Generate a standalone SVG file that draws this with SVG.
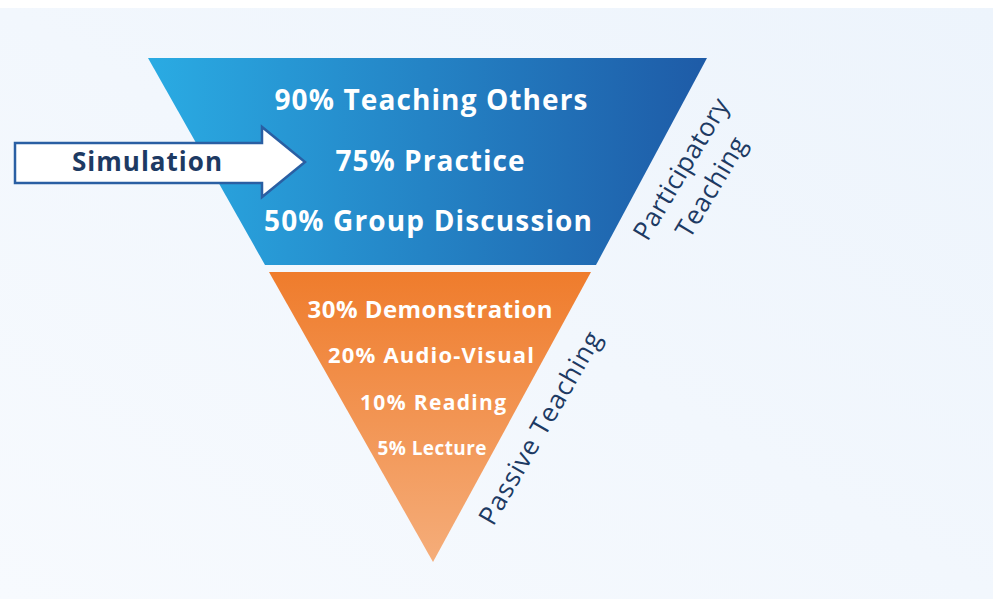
<svg xmlns="http://www.w3.org/2000/svg" width="993" height="599" viewBox="0 0 993 599">
  <defs>
    <linearGradient id="bg" x1="1" y1="0" x2="0" y2="1">
      <stop offset="0" stop-color="#edf4fc"/>
      <stop offset="1" stop-color="#f7fafe"/>
    </linearGradient>
    <linearGradient id="blueFill" x1="0" y1="0" x2="1" y2="0">
      <stop offset="0" stop-color="#2aabe3"/>
      <stop offset="1" stop-color="#1e5ba7"/>
    </linearGradient>
    <linearGradient id="orangeFill" x1="0" y1="0" x2="0" y2="1">
      <stop offset="0" stop-color="#ef7c2c"/>
      <stop offset="1" stop-color="#f5ad7a"/>
    </linearGradient>
    <style>
      .tier { font-family: "Open Sans", "Liberation Sans", sans-serif; font-weight: 700; fill: #ffffff; text-anchor: middle; }
      .side { font-family: "Open Sans", "Liberation Sans", sans-serif; font-weight: 400; fill: #1d3a63; text-anchor: middle; font-size: 26px; }
      .arrow-label { font-family: "Open Sans", "Liberation Sans", sans-serif; font-weight: 700; fill: #1d3a63; text-anchor: middle; font-size: 26px; }
    </style>
  </defs>

  <!-- page background -->
  <rect x="0" y="0" width="993" height="599" fill="#ffffff"/>
  <rect x="0" y="8" width="993" height="591" fill="url(#bg)"/>

  <!-- upper band: participatory methods -->
  <g id="participatory">
    <polygon points="148,58 707,58 596,265 265,265" fill="url(#blueFill)"/>
    <text class="tier" x="431" y="110" font-size="28" textLength="313" lengthAdjust="spacing">90% Teaching Others</text>
    <text class="tier" x="430" y="171" font-size="28" textLength="189" lengthAdjust="spacing">75% Practice</text>
    <text class="tier" x="428" y="231" font-size="28" textLength="328" lengthAdjust="spacing">50% Group Discussion</text>
  </g>

  <!-- lower band: passive methods -->
  <g id="passive">
    <polygon points="269,272 591,272 433,562" fill="url(#orangeFill)"/>
    <text class="tier" x="430" y="318" font-size="24" textLength="245" lengthAdjust="spacing">30% Demonstration</text>
    <text class="tier" x="431" y="363" font-size="22" textLength="206" lengthAdjust="spacing">20% Audio-Visual</text>
    <text class="tier" x="433" y="410" font-size="21" textLength="146" lengthAdjust="spacing">10% Reading</text>
    <text class="tier" x="432" y="455" font-size="19" textLength="109" lengthAdjust="spacing">5% Lecture</text>
  </g>

  <!-- side labels -->
  <g id="label-participatory">
    <text class="side" transform="translate(681,169) rotate(-59)" y="9" textLength="160" lengthAdjust="spacing">Participatory</text>
    <text class="side" transform="translate(711,187) rotate(-59)" y="9" textLength="112" lengthAdjust="spacing">Teaching</text>
  </g>
  <g id="label-passive">
    <text class="side" transform="translate(540,428) rotate(-60)" y="9" textLength="218" lengthAdjust="spacing">Passive Teaching</text>
  </g>

  <!-- simulation pointer -->
  <g id="simulation">
    <polygon points="15,143 262,143 262,127 305,162 262,197 262,183 15,183" fill="#ffffff" stroke="#2a5fa3" stroke-width="2.5" stroke-linejoin="miter"/>
    <text class="arrow-label" x="147" y="171" textLength="150" lengthAdjust="spacing">Simulation</text>
  </g>
</svg>
